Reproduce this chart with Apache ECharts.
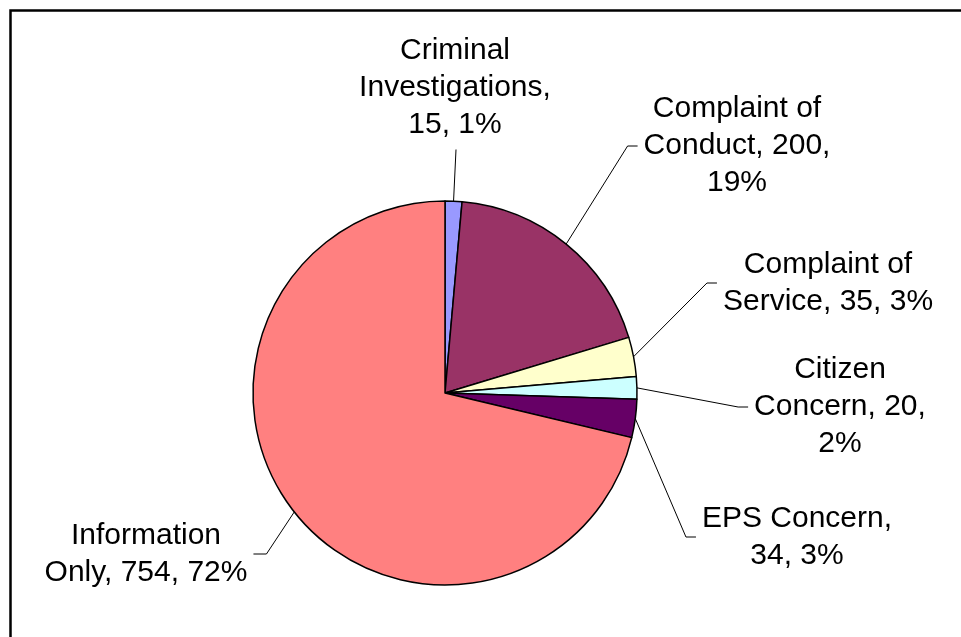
<!DOCTYPE html>
<html>
<head>
<meta charset="utf-8">
<script src="https://cdn.jsdelivr.net/npm/echarts@6/dist/echarts.min.js"></script>
<style>
html,body{margin:0;padding:0;background:#fff;}
#chart{width:961px;height:637px;}
</style>
</head>
<body>
<div id="chart"></div>
<script>
// ---- data ----
var categories = ['Criminal Investigations', 'Complaint of Conduct', 'Complaint of Service', 'Citizen Concern', 'EPS Concern', 'Information Only'];
var values = [15, 200, 35, 20, 34, 754];
var percentLabels = ['1%', '19%', '3%', '2%', '3%', '72%'];
var colors = ['#9999FF', '#993366', '#FFFFCC', '#CCFFFF', '#660066', '#FF8080'];

// ---- layout (positions, wraps) ----
var lineWordCounts = [[1, 1, 2], [2, 2, 1], [2, 3], [1, 2, 1], [2, 2], [1, 3]];
var labelPos = [
  {x: 455, y: 88, side: 'top'},
  {x: 737, y: 146, side: 'right'},
  {x: 828, y: 283, side: 'right'},
  {x: 840, y: 407, side: 'right'},
  {x: 797, y: 537, side: 'right'},
  {x: 146, y: 554, side: 'left'}
];

function labelText(i) {
  var words = (categories[i] + ', ' + values[i] + ', ' + percentLabels[i]).split(' ');
  var lines = [], k = 0;
  lineWordCounts[i].forEach(function (n) {
    lines.push(words.slice(k, k + n).join(' '));
    k += n;
  });
  return lines.join('\n');
}

var chart = echarts.init(document.getElementById('chart'), null, {renderer: 'canvas'});
chart.setOption({
  animation: false,
  backgroundColor: '#fff',
  graphic: [{
    type: 'rect',
    shape: {x: 10.5, y: 10.5, width: 1000, height: 700},
    style: {fill: 'none', stroke: '#000', lineWidth: 2.5},
    silent: true
  }],
  series: [{
    type: 'pie',
    center: [445, 393],
    radius: 192,
    startAngle: 90,
    clockwise: true,
    avoidLabelOverlap: false,
    emphasis: {disabled: true},
    data: categories.map(function (c, i) {
      return {name: c, value: values[i], itemStyle: {color: colors[i]}};
    }),
    itemStyle: {borderColor: '#000', borderWidth: 1.5},
    label: {
      show: true,
      position: 'outside',
      formatter: function (p) { return labelText(p.dataIndex); },
      fontFamily: 'Liberation Sans, Arial, sans-serif',
      fontSize: 30,
      lineHeight: 37,
      color: '#000',
      align: 'center'
    },
    labelLine: {
      show: true,
      length: 10,
      length2: 10,
      lineStyle: {color: '#000', width: 1}
    },
    labelLayout: function (p) {
      var i = p.dataIndex;
      var pos = labelPos[i];
      var w = p.labelRect.width, h = p.labelRect.height;
      var p0 = (p.labelLinePoints && p.labelLinePoints[0]) ? p.labelLinePoints[0] : [445, 393];
      var end, elbow;
      if (pos.side === 'top') {
        end = [pos.x + 1, pos.y + h / 2 + 6];
        elbow = end.slice();
      } else if (pos.side === 'right') {
        end = [pos.x - w / 2 - 6, pos.y];
        elbow = [end[0] - 10, end[1]];
      } else {
        end = [pos.x + w / 2 + 6, pos.y];
        elbow = [end[0] + 13, end[1]];
      }
      return {
        x: pos.x,
        y: pos.y,
        align: 'center',
        verticalAlign: 'middle',
        labelLinePoints: [p0, elbow, end]
      };
    }
  }]
});
</script>
</body>
</html>
